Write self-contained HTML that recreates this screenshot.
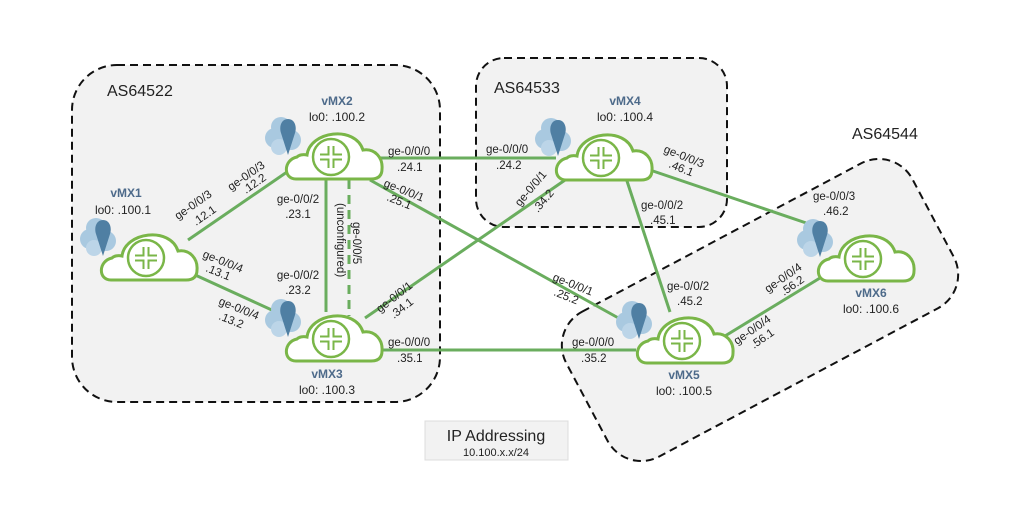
<!DOCTYPE html>
<html><head><meta charset="utf-8"><style>
html,body{margin:0;padding:0;background:#fff;}
svg{display:block;font-family:"Liberation Sans",Arial,sans-serif;}
.l{font-size:11.5px;fill:#222;}
.n{font-size:12px;font-weight:bold;fill:#4d6a8a;}
.lo{font-size:12px;fill:#222;}
.as{font-size:16px;fill:#222;}
.ln{stroke:#6aad5e;stroke-width:3;fill:none;}
</style></head><body>
<svg width="1024" height="512" viewBox="0 0 1024 512">
<defs>
<g id="r">
  <circle cx="-2" cy="2" r="10" fill="#a9c9e0"/>
  <circle cx="-8" cy="13" r="10" fill="#a9c9e0"/>
  <circle cx="8" cy="15" r="10" fill="#a9c9e0"/>
  <circle cx="-4" cy="22" r="8" fill="#bcd5e8"/>
  <path d="M5,-6 C-2,-6 -4,2 -2,8 L5,30 L12,8 C14,2 12,-6 5,-6 Z" fill="#4f7fa3"/>
  <path d="M13,54 C0,54 0,35 14,32 C16,30 20,29 24,30 C27,6 72,0 80,25 C92,23 100,33 99,44 C99,51 95,54 88,54 Z" fill="#fff" stroke="#7ab648" stroke-width="3"/>
  <circle cx="48" cy="32" r="18" fill="#fff" stroke="#7ab648" stroke-width="2.5"/>
  <g stroke="#7ab648" stroke-width="2" fill="none">
    <path d="M45.5,21 V29.5 H37 M50.5,21 V29.5 H59 M45.5,43 V34.5 H37 M50.5,43 V34.5 H59"/>
  </g>
</g>
</defs>
<rect x="72" y="65" width="368" height="337" rx="45" fill="#f2f2f2" stroke="#111" stroke-width="2" stroke-dasharray="8,5"/>
<rect x="476" y="58" width="251" height="169" rx="28" fill="#f2f2f2" stroke="#111" stroke-width="2" stroke-dasharray="8,5"/>
<rect x="-196" y="-82" width="392" height="164" rx="38" transform="translate(760,310) rotate(-28)" fill="#f2f2f2" stroke="#111" stroke-width="2" stroke-dasharray="8,5"/>
<text class="as" x="107" y="96">AS64522</text>
<text class="as" x="494" y="93">AS64533</text>
<text class="as" x="852" y="139">AS64544</text>
<line class="ln" x1="188" y1="240" x2="287" y2="172"/>
<line class="ln" x1="193" y1="274" x2="285" y2="316"/>
<line class="ln" x1="326" y1="176" x2="326" y2="312"/>
<line x1="349" y1="180" x2="349" y2="316" stroke="#6aad5e" stroke-width="3" stroke-dasharray="9,6"/>
<line class="ln" x1="380" y1="158" x2="556" y2="158"/>
<line class="ln" x1="370" y1="180" x2="622" y2="320"/>
<line class="ln" x1="365" y1="318" x2="568" y2="178"/>
<line class="ln" x1="380" y1="350" x2="636" y2="350"/>
<line class="ln" x1="626" y1="178" x2="670" y2="312"/>
<line class="ln" x1="650" y1="170" x2="818" y2="227"/>
<line class="ln" x1="725" y1="336" x2="820" y2="278"/>
<use href="#r" x="98" y="226"/>
<use href="#r" x="283" y="125"/>
<use href="#r" x="283" y="307"/>
<use href="#r" x="553" y="126"/>
<use href="#r" x="634" y="309"/>
<use href="#r" x="815" y="227"/>
<text class="n" x="126" y="197" text-anchor="middle">vMX1</text>
<text class="lo" x="123" y="214" text-anchor="middle">lo0: .100.1</text>
<text class="n" x="337" y="105" text-anchor="middle">vMX2</text>
<text class="lo" x="337" y="121" text-anchor="middle">lo0: .100.2</text>
<text class="n" x="327" y="378" text-anchor="middle">vMX3</text>
<text class="lo" x="327" y="394" text-anchor="middle">lo0: .100.3</text>
<text class="n" x="625" y="105" text-anchor="middle">vMX4</text>
<text class="lo" x="625" y="121" text-anchor="middle">lo0: .100.4</text>
<text class="n" x="684" y="379" text-anchor="middle">vMX5</text>
<text class="lo" x="684" y="395" text-anchor="middle">lo0: .100.5</text>
<text class="n" x="871" y="297" text-anchor="middle">vMX6</text>
<text class="lo" x="871" y="313" text-anchor="middle">lo0: .100.6</text>
<g class="l">
<text transform="translate(178,220) rotate(-35)">ge-0/0/3</text>
<text transform="translate(196,226) rotate(-35)">.12.1</text>
<text transform="translate(231,191) rotate(-35)">ge-0/0/3</text>
<text transform="translate(246,194) rotate(-35)">.12.2</text>
<text transform="translate(202,257) rotate(22)">ge-0/0/4</text>
<text transform="translate(205,271) rotate(22)">.13.1</text>
<text transform="translate(218,304) rotate(22)">ge-0/0/4</text>
<text transform="translate(218,319) rotate(22)">.13.2</text>
<text x="298" y="203" text-anchor="middle">ge-0/0/2</text>
<text x="298" y="218" text-anchor="middle">.23.1</text>
<text x="298" y="279" text-anchor="middle">ge-0/0/2</text>
<text x="298" y="294" text-anchor="middle">.23.2</text>
<text transform="translate(337,203) rotate(90)">(unconfigured)</text>
<text transform="translate(353,222) rotate(90)">ge-0/0/5</text>
<text x="388" y="155">ge-0/0/0</text>
<text x="397" y="171">.24.1</text>
<text transform="translate(383,186) rotate(22)">ge-0/0/1</text>
<text transform="translate(386,200) rotate(22)">.25.1</text>
<text transform="translate(380,313) rotate(-38)">ge-0/0/1</text>
<text transform="translate(394,319) rotate(-38)">.34.1</text>
<text x="388" y="346">ge-0/0/0</text>
<text x="397" y="362">.35.1</text>
<text x="486" y="153">ge-0/0/0</text>
<text x="496" y="169">.24.2</text>
<text transform="translate(520,207) rotate(-50)">ge-0/0/1</text>
<text transform="translate(538,213) rotate(-50)">.34.2</text>
<text transform="translate(663,152) rotate(22)">ge-0/0/3</text>
<text transform="translate(668,167) rotate(22)">.46.1</text>
<text x="641" y="209">ge-0/0/2</text>
<text x="650" y="224">.45.1</text>
<text transform="translate(552,280) rotate(22)">ge-0/0/1</text>
<text transform="translate(553,295) rotate(22)">.25.2</text>
<text x="667" y="290">ge-0/0/2</text>
<text x="677" y="305">.45.2</text>
<text x="572" y="346">ge-0/0/0</text>
<text x="581" y="362">.35.2</text>
<text x="813" y="200">ge-0/0/3</text>
<text x="823" y="215">.46.2</text>
<text transform="translate(768,293) rotate(-35)">ge-0/0/4</text>
<text transform="translate(784,296) rotate(-35)">.56.2</text>
<text transform="translate(737,345) rotate(-35)">ge-0/0/4</text>
<text transform="translate(754,349) rotate(-35)">.56.1</text>
</g>
<rect x="425" y="421" width="143" height="39" fill="#f2f2f2" stroke="#dcdcdc"/>
<text x="496" y="441" text-anchor="middle" style="font-size:16px;fill:#222">IP Addressing</text>
<text x="496" y="456" text-anchor="middle" style="font-size:11px;fill:#222">10.100.x.x/24</text>
</svg>
</body></html>
